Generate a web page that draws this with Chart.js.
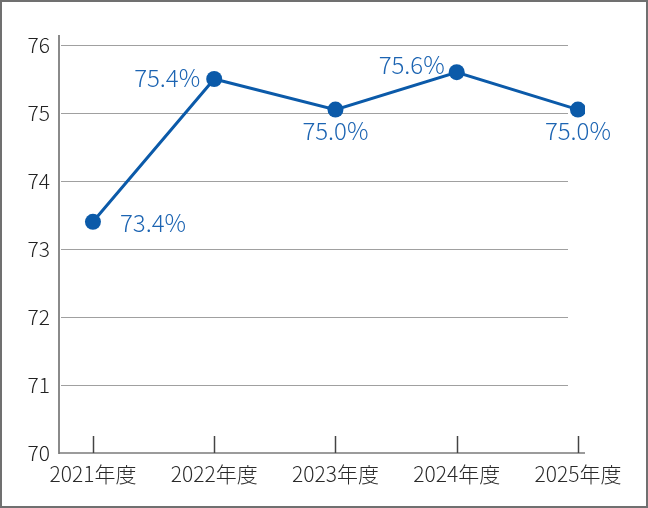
<!DOCTYPE html>
<html><head><meta charset="utf-8">
<script src="https://cdn.jsdelivr.net/npm/chart.js@4/dist/chart.umd.min.js"></script>
<style>
html,body{margin:0;padding:0;background:#fff;}
#wrap{width:648px;height:508px;box-sizing:border-box;border:2px solid #707070;background:#fff;}
#wrap canvas{display:block;}
</style></head>
<body>
<div id="wrap"><canvas id="c" width="644" height="504"></canvas></div>
<script>
const categories = ['2021年度','2022年度','2023年度','2024年度','2025年度'];
const values = [73.4, 75.5, 75.05, 75.6, 75.05];
const valueLabels = ['73.4%','75.4%','75.0%','75.6%','75.0%'];
const yTicks = [70, 71, 72, 73, 74, 75, 76];

const labelPlacement = ['right','left','below','upleft','below'];
const FONT = '"Noto Sans CJK JP", "Noto Sans", sans-serif';

const decor = {
  id: 'decor',
  beforeDatasetsDraw(chart) {
    const ctx = chart.ctx, x = chart.scales.x, y = chart.scales.y, a = chart.chartArea;
    ctx.save();
    ctx.strokeStyle = '#a0a0a0'; ctx.lineWidth = 1;
    yTicks.forEach(t => {
      if (t === yTicks[0]) return;
      const py = Math.round(y.getPixelForValue(t)) + 0.5;
      ctx.beginPath(); ctx.moveTo(a.left + 2, py); ctx.lineTo(a.right - 17, py); ctx.stroke();
    });
    ctx.strokeStyle = '#8a8a8a'; ctx.lineWidth = 2;
    ctx.beginPath(); ctx.moveTo(a.left, a.top - 10); ctx.lineTo(a.left, a.bottom + 1); ctx.stroke();
    ctx.strokeStyle = '#7a7a7a'; ctx.lineWidth = 1.5;
    ctx.beginPath(); ctx.moveTo(a.left, a.bottom); ctx.lineTo(a.right, a.bottom); ctx.stroke();
    ctx.strokeStyle = '#444'; ctx.lineWidth = 1.5;
    categories.forEach((c, i) => {
      const px = Math.round(x.getPixelForValue(i)) + 0.5;
      ctx.beginPath(); ctx.moveTo(px, a.bottom - 17); ctx.lineTo(px, a.bottom); ctx.stroke();
    });
    ctx.restore();
  },
  afterDatasetsDraw(chart) {
    const ctx = chart.ctx, meta = chart.getDatasetMeta(0);
    ctx.save();
    ctx.fillStyle = '#1c64b2';
    ctx.font = '300 24px ' + FONT;
    ctx.textBaseline = 'middle';
    meta.data.forEach((pt, i) => {
      const p = labelPlacement[i];
      let tx = pt.x, ty = pt.y;
      if (p === 'right') { ctx.textAlign = 'left'; tx += 27; ty += 1; }
      else if (p === 'left') { ctx.textAlign = 'right'; tx -= 14; ty -= 1; }
      else if (p === 'below') { ctx.textAlign = 'center'; ty += 21; }
      else if (p === 'upleft') { ctx.textAlign = 'right'; tx -= 12; ty -= 7; }
      ctx.fillText(valueLabels[i], tx, ty);
    });
    ctx.restore();
  }
};

new Chart(document.getElementById('c'), {
  type: 'line',
  data: {
    datasets: [{
      data: values.map((v, i) => ({ x: i, y: v })),
      borderColor: '#0b5aa9',
      backgroundColor: '#0b5aa9',
      borderWidth: 3,
      pointRadius: 8,
      pointHoverRadius: 8,
      pointBackgroundColor: '#0b5aa9',
      pointBorderWidth: 0,
      tension: 0
    }]
  },
  options: {
    responsive: false,
    animation: false,
    events: [],
    layout: { padding: { top: 43, right: 61, left: 0, bottom: 0 } },
    plugins: { legend: { display: false }, tooltip: { enabled: false } },
    scales: {
      x: {
        type: 'linear',
        min: -0.28, max: 4.058,
        afterBuildTicks: s => { s.ticks = categories.map((c, i) => ({ value: i })); },
        afterFit: s => { s.height = 53; },
        grid: { display: false, drawTicks: false },
        border: { display: false },
        ticks: {
          callback: v => categories[v],
          color: '#2a2a2a',
          font: { family: FONT, size: 21, weight: 300 },
          padding: 8,
          maxRotation: 0, autoSkip: false
        }
      },
      y: {
        min: 70, max: 76,
        afterBuildTicks: s => { s.ticks = yTicks.map(v => ({ value: v })); },
        afterFit: s => { s.width = 57; },
        grid: { display: false, drawTicks: false },
        border: { display: false },
        ticks: {
          color: '#222',
          font: { family: FONT, size: 21, weight: 300 },
          padding: 9
        }
      }
    }
  },
  plugins: [decor]
});
</script>
</body></html>
